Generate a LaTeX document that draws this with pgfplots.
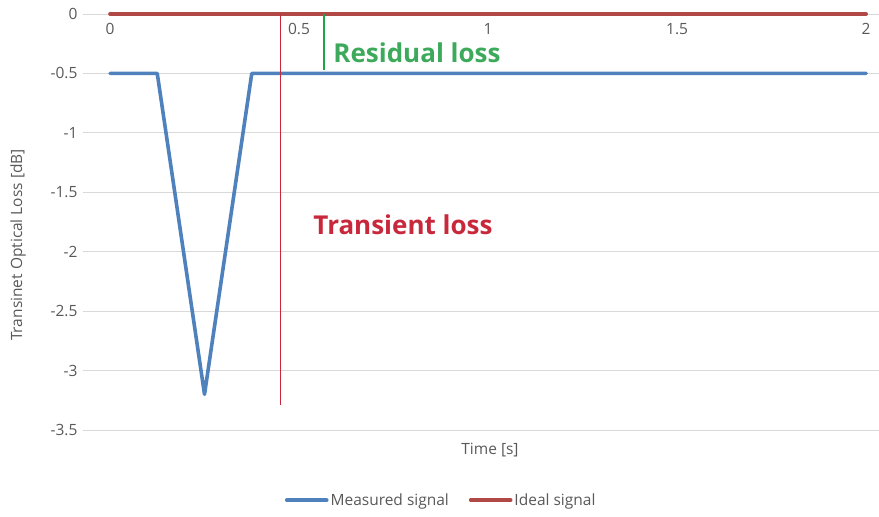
\documentclass[border=0pt]{standalone}
\usepackage{fontspec}
\setmainfont{Open Sans}
\usepackage{pgfplots}
\pgfplotsset{compat=1.18}

\definecolor{measured}{RGB}{79,129,189}
\definecolor{ideal}{RGB}{176,72,70}
\definecolor{transred}{RGB}{200,40,60}
\definecolor{resgreen}{RGB}{60,170,90}
\definecolor{resline}{RGB}{30,165,70}
\definecolor{gridgray}{RGB}{217,217,217}
\definecolor{txtgray}{RGB}{89,89,89}

\begin{document}
\begin{tikzpicture}[x=1pt,y=1pt]
% frame of the whole picture, in reference pixels
\useasboundingbox (-83,-87) rectangle (796,430);
\begin{axis}[
	scale only axis,
	width=796pt, height=416pt,
	xmin=-0.0714, xmax=2.034,
	ymin=-3.5, ymax=0,
	axis x line=middle, axis y line=left,
	x axis line style={draw=none, -},
	y axis line style={draw=none, -},
	xtick={0,0.5,1,1.5,2},
	ytick={0,-0.5,-1,-1.5,-2,-2.5,-3,-3.5},
	ymajorgrids, grid style={gridgray, line width=0.9pt},
	major tick length=0pt,
	ticklabel style={font=\fontsize{15.5}{18}\selectfont, text=txtgray},
	xticklabel style={anchor=north, yshift=-6pt},
	yticklabel style={anchor=east, xshift=-2pt},
	/pgf/number format/assume math mode=true,
	clip=false,
	legend style={at={(0.45,-87pt)}, anchor=south, yshift=6pt, draw=none,
		legend columns=-1, font=\fontsize{15.5}{18}\selectfont, text=txtgray,
		/tikz/every even column/.append style={column sep=18pt}},
	legend image code/.code={\draw[#1] (0pt,0pt) -- (40pt,0pt);},
]
\addplot[measured, line width=3.6pt, line join=round, line cap=round]
	coordinates {(0,-0.5) (0.125,-0.5) (0.25,-3.2) (0.375,-0.5) (2,-0.5)};
\addplot[ideal, line width=3.6pt, line cap=round]
	coordinates {(0,0) (2,0)};
\legend{Measured signal, Ideal signal}
\addplot[transred, line width=1.1pt, forget plot]
	coordinates {(0.452,0) (0.452,-3.29)};
\addplot[resline, line width=1.3pt, forget plot]
	coordinates {(0.566,0) (0.566,-0.47)};
\node[font=\fontsize{26}{30}\selectfont\bfseries, text=transred]
	at (axis cs:0.775,-1.77) {Transient loss};
\node[font=\fontsize{26}{30}\selectfont\bfseries, text=resgreen]
	at (axis cs:0.812,-0.33) {Residual loss};
\end{axis}
\node[rotate=90, font=\fontsize{15.5}{18}\selectfont, text=txtgray]
	at (-65,185) {Transinet Optical Loss [dB]};
\node[font=\fontsize{15.5}{18}\selectfont, text=txtgray]
	at (407,-20) {Time [s]};
\end{tikzpicture}
\end{document}
